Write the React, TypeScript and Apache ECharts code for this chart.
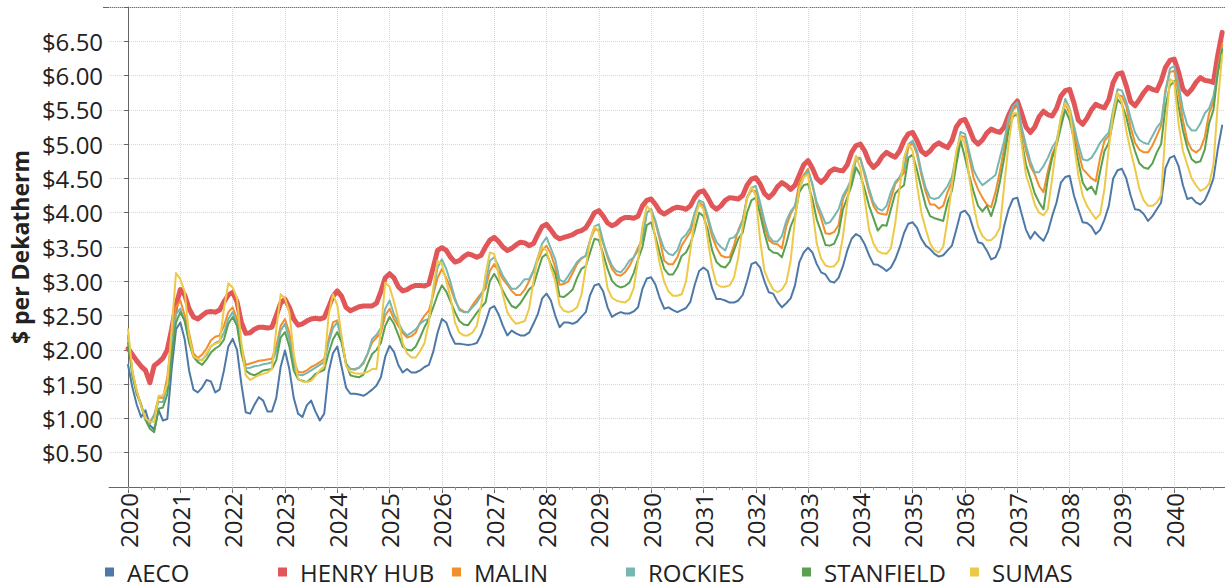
import React, { useEffect, useRef } from 'react';
import * as echarts from 'echarts';

// Monthly values, Jan 2020 .. Dec 2040 (12 per row = one year)
const YEARS = ['2020','2021','2022','2023','2024','2025','2026','2027','2028','2029','2030','2031','2032','2033','2034','2035','2036','2037','2038','2039','2040'];
const SERIES_NAMES = ['AECO', 'HENRY HUB', 'MALIN', 'ROCKIES', 'STANFIELD', 'SUMAS'];
const COLORS = ['#4e79a7', '#e15759', '#f28e2b', '#76b7b2', '#59a14f', '#edc948'];

const AECO = [
  1.78, 1.45, 1.20, 1.02, 1.12, 0.90, 0.84, 1.12, 0.97, 0.99, 1.72, 2.30,
  2.40, 2.15, 1.70, 1.42, 1.38, 1.45, 1.56, 1.54, 1.38, 1.42, 1.70, 2.05,
  2.16, 2.00, 1.50, 1.09, 1.07, 1.20, 1.31, 1.26, 1.10, 1.10, 1.30, 1.75,
  1.99, 1.72, 1.30, 1.07, 1.02, 1.19, 1.26, 1.10, 0.97, 1.07, 1.67, 1.95,
  2.05, 1.75, 1.45, 1.36, 1.36, 1.35, 1.33, 1.37, 1.42, 1.48, 1.60, 1.90,
  2.06, 1.97, 1.78, 1.67, 1.72, 1.67, 1.67, 1.70, 1.75, 1.78, 1.97, 2.25,
  2.45, 2.40, 2.22, 2.09, 2.09, 2.08, 2.07, 2.08, 2.10, 2.22, 2.40, 2.60,
  2.64, 2.52, 2.35, 2.21, 2.28, 2.24, 2.21, 2.21, 2.25, 2.38, 2.52, 2.75,
  2.82, 2.72, 2.50, 2.33, 2.40, 2.40, 2.38, 2.41, 2.48, 2.55, 2.80, 2.94,
  2.96, 2.85, 2.62, 2.48, 2.52, 2.55, 2.53, 2.53, 2.56, 2.62, 2.89, 3.04,
  3.06, 2.95, 2.75, 2.60, 2.62, 2.58, 2.55, 2.58, 2.61, 2.70, 2.95, 3.15,
  3.20, 3.15, 2.90, 2.74, 2.74, 2.72, 2.69, 2.69, 2.72, 2.80, 3.00, 3.25,
  3.28, 3.20, 3.00, 2.84, 2.82, 2.70, 2.62, 2.68, 2.75, 2.94, 3.28, 3.42,
  3.49, 3.42, 3.25, 3.13, 3.10, 3.00, 2.98, 3.05, 3.22, 3.45, 3.62, 3.69,
  3.65, 3.54, 3.38, 3.25, 3.24, 3.20, 3.15, 3.20, 3.32, 3.49, 3.70, 3.84,
  3.86, 3.78, 3.62, 3.52, 3.47, 3.40, 3.36, 3.38, 3.45, 3.52, 3.75, 4.00,
  4.03, 3.95, 3.75, 3.57, 3.55, 3.45, 3.32, 3.35, 3.49, 3.81, 4.05, 4.20,
  4.22, 3.98, 3.75, 3.62, 3.72, 3.65, 3.59, 3.72, 3.95, 4.15, 4.44, 4.52,
  4.54, 4.25, 4.05, 3.86, 3.85, 3.80, 3.69, 3.75, 3.90, 4.10, 4.50, 4.62,
  4.64, 4.50, 4.25, 4.05, 4.04, 3.98, 3.88, 3.95, 4.05, 4.15, 4.65, 4.80,
  4.83, 4.68, 4.40, 4.20, 4.22, 4.15, 4.12, 4.18, 4.32, 4.50, 4.93, 5.27,
];

const HENRY_HUB = [
  2.02, 1.93, 1.84, 1.76, 1.70, 1.52, 1.77, 1.82, 1.88, 2.00, 2.30, 2.65,
  2.88, 2.80, 2.60, 2.48, 2.45, 2.50, 2.55, 2.56, 2.55, 2.58, 2.70, 2.80,
  2.84, 2.70, 2.40, 2.24, 2.25, 2.30, 2.33, 2.33, 2.32, 2.33, 2.50, 2.68,
  2.74, 2.62, 2.45, 2.36, 2.38, 2.42, 2.45, 2.46, 2.45, 2.47, 2.62, 2.78,
  2.86, 2.78, 2.62, 2.57, 2.60, 2.63, 2.64, 2.64, 2.64, 2.68, 2.85, 3.05,
  3.11, 3.05, 2.92, 2.86, 2.88, 2.92, 2.94, 2.94, 2.93, 2.96, 3.20, 3.45,
  3.49, 3.45, 3.35, 3.28, 3.30, 3.36, 3.40, 3.38, 3.35, 3.38, 3.50, 3.60,
  3.64, 3.58, 3.50, 3.45, 3.48, 3.53, 3.57, 3.56, 3.52, 3.55, 3.68, 3.80,
  3.83, 3.75, 3.66, 3.62, 3.64, 3.66, 3.68, 3.72, 3.74, 3.78, 3.88, 4.00,
  4.03, 3.95, 3.85, 3.81, 3.84, 3.90, 3.93, 3.93, 3.92, 3.95, 4.10, 4.18,
  4.20, 4.12, 4.02, 3.98, 4.02, 4.06, 4.08, 4.07, 4.05, 4.10, 4.22, 4.30,
  4.32, 4.22, 4.10, 4.05, 4.10, 4.18, 4.22, 4.21, 4.20, 4.25, 4.40, 4.49,
  4.51, 4.42, 4.28, 4.22, 4.28, 4.38, 4.44, 4.40, 4.34, 4.40, 4.55, 4.70,
  4.76, 4.65, 4.50, 4.44, 4.50, 4.60, 4.64, 4.62, 4.61, 4.70, 4.88, 4.98,
  5.00, 4.90, 4.74, 4.66, 4.72, 4.82, 4.88, 4.84, 4.81, 4.90, 5.05, 5.15,
  5.17, 5.05, 4.90, 4.85, 4.90, 4.98, 5.02, 4.98, 4.95, 5.05, 5.25, 5.34,
  5.36, 5.22, 5.06, 5.00, 5.06, 5.16, 5.22, 5.19, 5.17, 5.25, 5.42, 5.55,
  5.63, 5.45, 5.25, 5.17, 5.25, 5.40, 5.48, 5.43, 5.41, 5.52, 5.70, 5.78,
  5.80, 5.60, 5.35, 5.29, 5.38, 5.50, 5.58, 5.55, 5.53, 5.65, 5.90, 6.02,
  6.04, 5.85, 5.62, 5.56, 5.65, 5.75, 5.83, 5.80, 5.78, 5.92, 6.12, 6.22,
  6.24, 6.05, 5.80, 5.73, 5.80, 5.90, 5.97, 5.93, 5.92, 5.90, 6.30, 6.63,
];

const MALIN = [
  2.21, 1.68, 1.40, 1.20, 1.00, 0.95, 1.05, 1.30, 1.30, 1.60, 2.20, 2.62,
  2.72, 2.50, 2.25, 1.95, 1.88, 1.93, 2.02, 2.14, 2.19, 2.21, 2.35, 2.55,
  2.62, 2.45, 2.05, 1.78, 1.80, 1.82, 1.84, 1.85, 1.86, 1.87, 2.05, 2.35,
  2.45, 2.25, 1.85, 1.68, 1.67, 1.70, 1.75, 1.78, 1.82, 1.87, 2.15, 2.40,
  2.43, 2.15, 1.80, 1.72, 1.72, 1.74, 1.80, 1.95, 2.11, 2.18, 2.25, 2.50,
  2.60, 2.45, 2.35, 2.25, 2.18, 2.20, 2.25, 2.40, 2.50, 2.57, 2.80, 3.05,
  3.18, 3.05, 2.90, 2.72, 2.60, 2.56, 2.55, 2.65, 2.74, 2.82, 2.89, 3.15,
  3.25, 3.15, 3.03, 2.95, 2.86, 2.80, 2.80, 2.88, 3.00, 3.15, 3.30, 3.45,
  3.52, 3.40, 3.20, 2.95, 2.96, 3.00, 3.12, 3.25, 3.33, 3.37, 3.60, 3.75,
  3.75, 3.55, 3.35, 3.18, 3.10, 3.08, 3.13, 3.22, 3.35, 3.49, 3.62, 4.00,
  4.05, 3.85, 3.60, 3.30, 3.25, 3.25, 3.35, 3.52, 3.62, 3.72, 3.96, 4.15,
  4.10, 3.90, 3.65, 3.49, 3.38, 3.35, 3.35, 3.52, 3.75, 3.90, 4.22, 4.32,
  4.32, 4.10, 3.80, 3.60, 3.55, 3.54, 3.48, 3.80, 3.98, 4.10, 4.44, 4.55,
  4.64, 4.40, 4.10, 3.92, 3.70, 3.69, 3.72, 3.82, 4.20, 4.33, 4.45, 4.80,
  4.80, 4.54, 4.30, 4.10, 4.00, 3.98, 3.97, 4.20, 4.42, 4.50, 4.58, 4.95,
  5.02, 4.85, 4.55, 4.30, 4.12, 4.12, 4.06, 4.10, 4.30, 4.45, 4.80, 5.12,
  5.10, 4.80, 4.50, 4.34, 4.22, 4.12, 4.08, 4.30, 4.60, 4.95, 5.30, 5.50,
  5.56, 5.20, 4.90, 4.68, 4.56, 4.39, 4.30, 4.60, 4.85, 5.00, 5.30, 5.60,
  5.45, 5.17, 4.90, 4.64, 4.57, 4.50, 4.46, 4.80, 5.05, 5.12, 5.45, 5.72,
  5.70, 5.55, 5.25, 5.02, 4.92, 4.88, 4.88, 4.98, 5.12, 5.27, 5.80, 6.05,
  6.07, 5.75, 5.35, 5.05, 4.92, 4.88, 4.93, 5.10, 5.45, 5.62, 6.10, 6.45,
];

const ROCKIES = [
  2.18, 1.65, 1.38, 1.18, 0.98, 0.92, 1.05, 1.24, 1.24, 1.48, 2.05, 2.52,
  2.60, 2.42, 2.15, 1.90, 1.84, 1.86, 1.92, 2.05, 2.10, 2.13, 2.25, 2.45,
  2.55, 2.38, 2.00, 1.73, 1.74, 1.76, 1.77, 1.79, 1.80, 1.82, 1.98, 2.28,
  2.38, 2.15, 1.78, 1.64, 1.63, 1.66, 1.70, 1.74, 1.78, 1.82, 2.10, 2.32,
  2.40, 2.15, 1.80, 1.72, 1.71, 1.74, 1.82, 1.95, 2.16, 2.22, 2.32, 2.60,
  2.72, 2.52, 2.40, 2.28, 2.21, 2.25, 2.30, 2.38, 2.43, 2.45, 2.85, 3.20,
  3.32, 3.18, 2.98, 2.75, 2.58, 2.55, 2.55, 2.62, 2.69, 2.80, 2.95, 3.30,
  3.35, 3.22, 3.08, 2.98, 2.89, 2.89, 2.95, 3.03, 3.03, 3.15, 3.35, 3.55,
  3.64, 3.48, 3.32, 3.02, 2.99, 3.08, 3.18, 3.28, 3.34, 3.37, 3.60, 3.80,
  3.83, 3.58, 3.38, 3.23, 3.15, 3.13, 3.20, 3.30, 3.35, 3.45, 3.62, 4.00,
  4.05, 3.88, 3.65, 3.47, 3.40, 3.38, 3.45, 3.62, 3.68, 3.78, 4.00, 4.18,
  4.15, 3.95, 3.72, 3.57, 3.50, 3.45, 3.62, 3.64, 3.72, 3.88, 4.22, 4.36,
  4.39, 4.15, 3.88, 3.66, 3.58, 3.58, 3.66, 3.88, 4.02, 4.10, 4.34, 4.52,
  4.61, 4.42, 4.15, 4.00, 3.84, 3.86, 3.95, 4.05, 4.25, 4.36, 4.50, 4.78,
  4.78, 4.59, 4.35, 4.15, 4.06, 4.03, 4.10, 4.30, 4.45, 4.52, 4.65, 5.00,
  5.05, 4.90, 4.60, 4.36, 4.22, 4.20, 4.22, 4.30, 4.39, 4.52, 4.85, 5.18,
  5.15, 4.88, 4.62, 4.49, 4.40, 4.45, 4.50, 4.55, 4.80, 5.05, 5.38, 5.55,
  5.61, 5.25, 4.98, 4.75, 4.59, 4.59, 4.68, 4.80, 4.95, 5.05, 5.35, 5.66,
  5.52, 5.27, 5.00, 4.78, 4.76, 4.80, 4.90, 5.02, 5.10, 5.17, 5.50, 5.80,
  5.78, 5.62, 5.38, 5.17, 5.06, 5.02, 5.00, 5.12, 5.24, 5.32, 5.75, 6.10,
  6.14, 5.88, 5.50, 5.28, 5.20, 5.20, 5.30, 5.45, 5.52, 5.70, 6.05, 6.40,
];

const STANFIELD = [
  2.10, 1.62, 1.35, 1.20, 0.98, 0.85, 0.80, 1.14, 1.16, 1.35, 1.90, 2.40,
  2.55, 2.42, 2.10, 1.90, 1.82, 1.78, 1.86, 1.96, 2.02, 2.06, 2.15, 2.38,
  2.48, 2.35, 1.95, 1.70, 1.65, 1.63, 1.66, 1.70, 1.71, 1.72, 1.85, 2.18,
  2.26, 2.05, 1.70, 1.57, 1.55, 1.53, 1.58, 1.65, 1.68, 1.71, 1.95, 2.15,
  2.26, 2.10, 1.80, 1.63, 1.61, 1.60, 1.64, 1.80, 1.94, 2.00, 2.10, 2.35,
  2.48, 2.38, 2.22, 2.05, 2.00, 1.99, 2.05, 2.18, 2.33, 2.45, 2.62, 2.80,
  2.94, 2.85, 2.70, 2.55, 2.42, 2.37, 2.36, 2.45, 2.54, 2.62, 2.69, 3.00,
  3.11, 3.00, 2.86, 2.74, 2.64, 2.61, 2.68, 2.78, 2.88, 2.94, 3.15, 3.35,
  3.40, 3.25, 3.11, 2.78, 2.77, 2.82, 2.88, 3.05, 3.18, 3.22, 3.42, 3.62,
  3.60, 3.40, 3.18, 3.01, 2.94, 2.91, 2.93, 2.98, 3.12, 3.32, 3.50, 3.82,
  3.86, 3.65, 3.40, 3.18, 3.10, 3.10, 3.20, 3.37, 3.42, 3.55, 3.75, 4.00,
  3.95, 3.75, 3.45, 3.28, 3.22, 3.20, 3.28, 3.45, 3.62, 3.71, 4.00, 4.18,
  4.22, 3.98, 3.70, 3.47, 3.42, 3.41, 3.35, 3.55, 3.80, 3.95, 4.30, 4.40,
  4.42, 4.20, 3.90, 3.72, 3.53, 3.52, 3.55, 3.70, 4.05, 4.22, 4.40, 4.66,
  4.55, 4.34, 4.10, 3.92, 3.74, 3.82, 3.81, 4.05, 4.28, 4.35, 4.40, 4.80,
  4.85, 4.62, 4.35, 4.10, 3.95, 3.92, 3.90, 3.88, 4.15, 4.32, 4.70, 5.05,
  4.80, 4.54, 4.30, 4.10, 4.02, 4.10, 3.95, 4.15, 4.45, 4.80, 5.20, 5.40,
  5.44, 5.05, 4.70, 4.50, 4.28, 4.15, 4.05, 4.50, 4.80, 4.98, 5.25, 5.50,
  5.35, 5.07, 4.75, 4.44, 4.33, 4.38, 4.27, 4.60, 4.90, 5.02, 5.35, 5.65,
  5.58, 5.40, 5.12, 4.90, 4.72, 4.66, 4.64, 4.72, 4.88, 5.00, 5.55, 5.85,
  5.92, 5.55, 5.20, 4.95, 4.78, 4.73, 4.75, 4.92, 5.30, 5.50, 6.04, 6.38,
];

const SUMAS = [
  2.30, 1.68, 1.40, 1.18, 1.00, 0.95, 0.95, 1.33, 1.33, 1.50, 2.30, 3.12,
  3.03, 2.85, 2.20, 1.90, 1.87, 1.84, 1.95, 2.05, 2.09, 2.11, 2.60, 2.97,
  2.91, 2.75, 2.10, 1.63, 1.56, 1.60, 1.63, 1.65, 1.67, 1.72, 2.30, 2.81,
  2.75, 2.55, 1.95, 1.58, 1.54, 1.53, 1.55, 1.62, 1.70, 1.76, 2.50, 2.81,
  2.65, 2.20, 1.77, 1.68, 1.66, 1.65, 1.66, 1.68, 1.72, 1.72, 2.30, 2.98,
  2.92, 2.70, 2.45, 2.10, 1.95, 1.89, 1.89, 1.98, 2.10, 2.40, 2.90, 3.30,
  3.25, 3.00, 2.75, 2.40, 2.25, 2.21, 2.21, 2.25, 2.35, 2.65, 3.10, 3.42,
  3.40, 3.10, 2.80, 2.55, 2.45, 2.38, 2.40, 2.42, 2.60, 3.00, 3.35, 3.50,
  3.45, 3.20, 3.00, 2.65, 2.57, 2.55, 2.57, 2.62, 2.80, 3.20, 3.60, 3.80,
  3.72, 3.30, 2.90, 2.76, 2.72, 2.70, 2.69, 2.74, 2.90, 3.30, 3.80, 4.10,
  4.02, 3.60, 3.25, 2.99, 2.85, 2.79, 2.79, 2.81, 3.00, 3.45, 3.90, 4.13,
  4.05, 3.60, 3.20, 2.96, 2.92, 2.92, 2.94, 3.05, 3.35, 3.80, 4.20, 4.37,
  4.25, 3.60, 3.15, 3.00, 2.88, 2.84, 2.88, 2.98, 3.30, 3.90, 4.35, 4.52,
  4.56, 4.05, 3.55, 3.33, 3.23, 3.21, 3.22, 3.30, 3.65, 4.15, 4.60, 4.83,
  4.65, 4.20, 3.75, 3.55, 3.44, 3.41, 3.40, 3.48, 3.85, 4.35, 4.80, 5.00,
  4.90, 4.40, 4.00, 3.76, 3.55, 3.45, 3.42, 3.50, 3.90, 4.40, 4.90, 5.12,
  5.00, 4.50, 4.10, 3.80, 3.66, 3.60, 3.60, 3.66, 3.78, 4.40, 5.00, 5.45,
  5.45, 5.00, 4.55, 4.35, 4.12, 4.00, 3.96, 4.05, 4.50, 5.00, 5.40, 5.60,
  5.50, 5.00, 4.55, 4.25, 4.10, 4.00, 3.91, 3.98, 4.35, 4.95, 5.45, 5.75,
  5.60, 5.20, 4.90, 4.64, 4.35, 4.18, 4.10, 4.10, 4.15, 4.25, 5.20, 5.95,
  5.90, 5.30, 4.90, 4.70, 4.50, 4.40, 4.32, 4.35, 4.42, 4.70, 5.60, 6.30,
];

const SERIES_VALUES = [AECO, HENRY_HUB, MALIN, ROCKIES, STANFIELD, SUMAS];
const LINE_WIDTHS = [2, 5, 2, 2, 2, 2];
const LEGEND_LEFT = [105, 278, 452, 626, 802, 970];
const Y_TICKS_HIDDEN = [0, 7];

const FONT = "'Open Sans', 'Noto Sans', sans-serif";
const TEXT_COLOR = '#222';
const AXIS_COLOR = '#666';
const GRID_COLOR = '#d6d6d6';

export default function App() {
  const ref = useRef<HTMLDivElement>(null);

  useEffect(() => {
    if (!ref.current) return;
    const chart = echarts.init(ref.current, null, { renderer: 'svg' });

    const yearPositions = YEARS.map((_, i) => i * 12);
    const quarterPositions: number[] = [];
    for (let m = 0; m < YEARS.length * 12; m += 3) quarterPositions.push(m);

    const option: any = {
      animation: false,
      backgroundColor: '#ffffff',
      textStyle: { fontFamily: FONT },
      grid: { left: 107, top: 7, width: 1118, height: 480, containLabel: false },
      xAxis: [
        {
          type: 'value',
          min: -4.35,
          max: 251.65,
          axisLine: { show: true, lineStyle: { color: AXIS_COLOR, width: 1 } },
          axisTick: { show: true, customValues: yearPositions, length: 6, lineStyle: { color: AXIS_COLOR } },
          axisLabel: {
            show: true,
            customValues: yearPositions,
            rotate: 90,
            margin: 6,
            fontSize: 24,
            color: TEXT_COLOR,
            fontFamily: FONT,
            formatter: (v: number) => {
              const k = Math.round(v / 12);
              return Math.abs(v - k * 12) < 0.01 && YEARS[k] ? YEARS[k] : '';
            },
          },
          splitLine: { show: true, lineStyle: { color: GRID_COLOR, type: 'dotted', width: 1 } },
        },
        {
          type: 'value',
          min: -4.35,
          max: 251.65,
          position: 'bottom',
          axisLine: { show: false },
          axisTick: { show: true, customValues: quarterPositions, length: 3, lineStyle: { color: '#999' } },
          axisLabel: { show: false },
          splitLine: { show: false },
        },
      ],
      yAxis: {
        type: 'value',
        min: 0,
        max: 7,
        interval: 0.5,
        name: '$ per Dekatherm',
        nameLocation: 'middle',
        nameGap: 76,
        nameTextStyle: { fontSize: 23, fontWeight: 'bold', color: TEXT_COLOR, fontFamily: FONT },
        axisLine: { show: true, lineStyle: { color: AXIS_COLOR, width: 1 } },
        axisTick: { show: true, length: 4, lineStyle: { color: AXIS_COLOR } },
        axisLabel: {
          fontSize: 24,
          color: TEXT_COLOR,
          margin: 6,
          fontFamily: FONT,
          formatter: (v: number) => (Y_TICKS_HIDDEN.includes(v) ? '' : '$' + v.toFixed(2)),
        },
        splitLine: { show: true, lineStyle: { color: GRID_COLOR, type: 'dotted', width: 1 } },
      },
      legend: SERIES_NAMES.map((name, i) => ({
        data: [name],
        left: LEGEND_LEFT[i],
        top: 560,
        padding: 0,
        icon: 'rect',
        itemWidth: 9,
        itemHeight: 9,
        selectedMode: false,
        textStyle: { fontSize: 24, color: TEXT_COLOR, fontFamily: FONT, padding: [0, 0, 0, 8] },
      })),
      graphic: [
        {
          type: 'line',
          shape: { x1: 103, y1: 7.5, x2: 1225, y2: 7.5 },
          style: { stroke: AXIS_COLOR, lineWidth: 1 },
          silent: true,
        },
      ],
      series: SERIES_NAMES.map((name, i) => ({
        name,
        type: 'line',
        xAxisIndex: 0,
        yAxisIndex: 0,
        data: SERIES_VALUES[i].map((v, m) => [m, v]),
        showSymbol: false,
        symbol: 'none',
        silent: true,
        color: COLORS[i],
        lineStyle: { color: COLORS[i], width: LINE_WIDTHS[i], join: 'round', cap: 'round' },
        emphasis: { disabled: true },
        z: 2 + i,
      })),
    };

    chart.setOption(option);
    return () => chart.dispose();
  }, []);

  return (
    <div
      ref={ref}
      style={{ position: 'fixed', left: 0, top: 0, width: 1225, height: 588, background: '#fff' }}
    />
  );
}
